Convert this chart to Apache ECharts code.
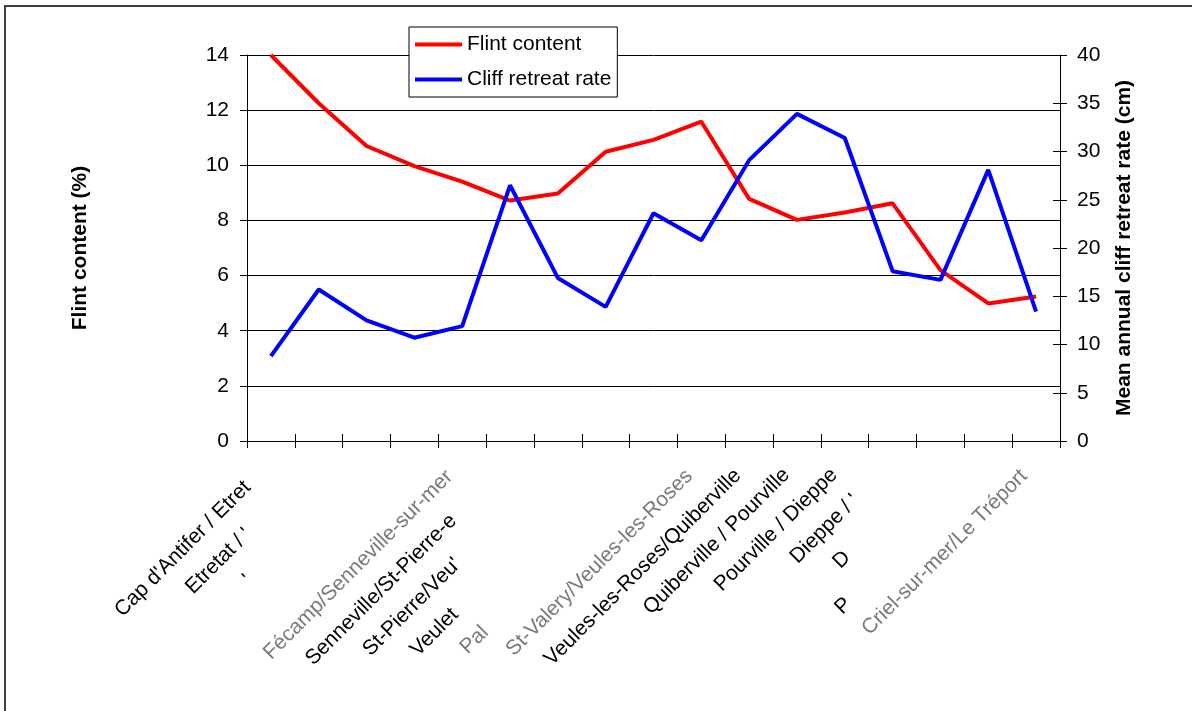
<!DOCTYPE html>
<html>
<head>
<meta charset="utf-8">
<script src="https://cdn.jsdelivr.net/npm/echarts@6/dist/echarts.min.js"></script>
<style>
  html, body { margin: 0; padding: 0; background: #fff; }
  #chart { width: 1192px; height: 711px; }
</style>
</head>
<body>
<div id="chart"></div>
<script>
// Coastal sections along the chalk cliffs (label text as printed under the axis)
const sections = [
  "Cap d'Antifer / Etret",
  "Etretat / '",
  "'",
  "",
  "Fécamp/Senneville-sur-mer",
  "Senneville/St-Pierre-e",
  "St-Pierre/Veu'",
  "Veulet",
  "Pal",
  "St-Valery/Veules-les-Roses",
  "Veules-les-Roses/Quiberville",
  "Quiberville / Pourville",
  "Pourville / Dieppe",
  "Dieppe / '",
  "D",
  "P",
  "Criel-sur-mer/Le Tréport"
];

// Flint content of the chalk (%)
const flintContent = [14.0, 12.25, 10.7, 9.97, 9.41, 8.72, 8.98, 10.49, 10.92, 11.58, 8.78, 8.02, 8.29, 8.62, 6.2, 4.99, 5.24];

// Mean annual cliff retreat rate (cm)
const retreatRate = [8.8, 15.7, 12.5, 10.7, 11.9, 26.5, 16.9, 13.9, 23.6, 20.8, 29.1, 33.9, 31.4, 17.6, 16.7, 28.1, 13.4];

const seriesNames = ['Flint content', 'Cliff retreat rate'];
const axisTitles = ['Flint content (%)', 'Mean annual cliff retreat rate (cm)'];

// Label layout: how far each label sits back along its slant, and which ones are faded
const labelShift = [33, 100, 166, 18, 18, 80, 142, 213, 238, 17, 16, 15, 15, 52, 132, 198, 17];
const fadedLabels = [4, 8, 9, 16];

const FONT = 'Liberation Sans, Arial, sans-serif';

const categoryData = sections.map((name, i) => ({
  value: name,
  textStyle: {
    padding: [0, labelShift[i], 0, 0],
    color: fadedLabels.includes(i) ? '#7a7a7a' : '#000'
  }
}));

const chart = echarts.init(document.getElementById('chart'));

const tickOut = { show: true, length: 7, inside: false, lineStyle: { color: '#000', width: 1 } };
const tickIn = { show: true, length: 7, inside: true, lineStyle: { color: '#000', width: 1 } };
const blackLine = { show: true, lineStyle: { color: '#000', width: 1 } };

chart.setOption({
  backgroundColor: '#fff',
  animation: false,
  textStyle: { fontFamily: FONT },
  grid: { left: 247, right: 132, top: 55, bottom: 270, containLabel: false },
  graphic: [{
    type: 'rect',
    shape: { x: 5, y: 6, width: 1200, height: 720 },
    style: { fill: 'none', stroke: '#404040', lineWidth: 2 },
    silent: true
  }],
  legend: {
    orient: 'vertical',
    left: 409,
    top: 27,
    padding: [7, 6, 7, 6],
    icon: 'rect',
    itemWidth: 47,
    itemHeight: 4,
    itemGap: 14,
    backgroundColor: '#fff',
    borderColor: '#000',
    borderWidth: 1,
    borderRadius: 0,
    textStyle: { fontFamily: FONT, fontSize: 21, color: '#000' },
    data: seriesNames
  },
  xAxis: [{
    type: 'category',
    data: categoryData,
    boundaryGap: true,
    axisLine: blackLine,
    axisTick: Object.assign({ alignWithLabel: false, interval: 0 }, tickOut),
    axisLabel: {
      interval: 0,
      rotate: 45,
      margin: 20,
      fontSize: 21,
      fontFamily: FONT,
      color: '#000'
    },
    splitLine: { show: false }
  }, {
    type: 'category',
    data: sections,
    position: 'bottom',
    boundaryGap: true,
    axisLine: { show: false },
    axisTick: Object.assign({ alignWithLabel: false, interval: 0 }, tickIn),
    axisLabel: { show: false },
    splitLine: { show: false }
  }],
  yAxis: [{
    type: 'value',
    position: 'left',
    min: 0, max: 14, interval: 2,
    name: axisTitles[0],
    nameLocation: 'middle',
    nameRotate: 90,
    nameGap: 156,
    nameTextStyle: { fontFamily: FONT, fontSize: 21, fontWeight: 'bold', color: '#000' },
    axisLine: blackLine,
    axisTick: tickOut,
    axisLabel: { margin: 18, fontSize: 21, fontFamily: FONT, color: '#000' },
    splitLine: { show: true, lineStyle: { color: '#000', width: 1 } }
  }, {
    type: 'value',
    position: 'right',
    min: 0, max: 40, interval: 5,
    name: axisTitles[1],
    nameLocation: 'middle',
    nameRotate: 90,
    nameGap: 54,
    nameTextStyle: { fontFamily: FONT, fontSize: 21, fontWeight: 'bold', color: '#000' },
    axisLine: blackLine,
    axisTick: tickOut,
    axisLabel: { margin: 17, fontSize: 21, fontFamily: FONT, color: '#000' },
    splitLine: { show: false }
  }, {
    type: 'value',
    position: 'left',
    min: 0, max: 14, interval: 2,
    axisLine: { show: false },
    axisTick: tickIn,
    axisLabel: { show: false },
    splitLine: { show: false }
  }, {
    type: 'value',
    position: 'right',
    min: 0, max: 40, interval: 5,
    axisLine: { show: false },
    axisTick: tickIn,
    axisLabel: { show: false },
    splitLine: { show: false }
  }],
  series: [{
    name: seriesNames[0],
    type: 'line',
    xAxisIndex: 0,
    yAxisIndex: 0,
    data: flintContent,
    symbol: 'none',
    lineStyle: { color: '#ff0000', width: 4 },
    itemStyle: { color: '#ff0000' }
  }, {
    name: seriesNames[1],
    type: 'line',
    xAxisIndex: 0,
    yAxisIndex: 1,
    data: retreatRate,
    symbol: 'none',
    lineStyle: { color: '#0000ff', width: 4 },
    itemStyle: { color: '#0000ff' }
  }]
});
</script>
</body>
</html>
